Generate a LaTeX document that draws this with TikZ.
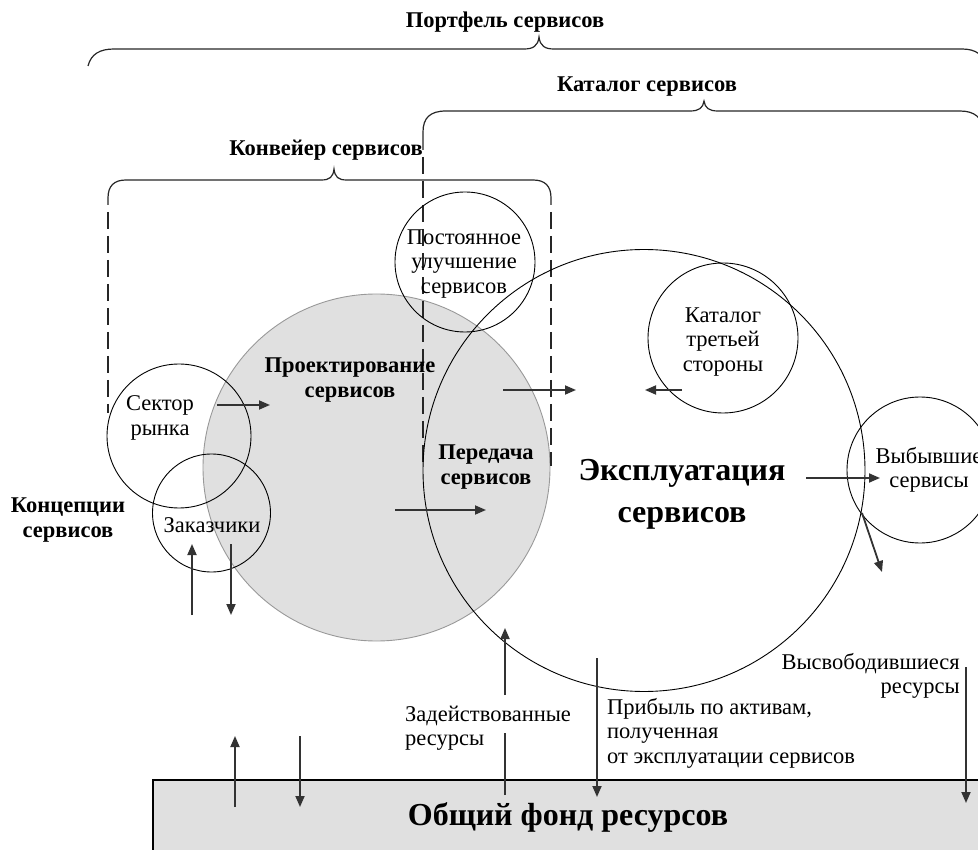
\documentclass[tikz,border=0pt]{standalone}
\usepackage{fontspec}
\setmainfont{Liberation Serif}
\usetikzlibrary{arrows.meta}
\definecolor{shade}{HTML}{E0E0E0}
\definecolor{arr}{HTML}{333333}
\begin{document}
\begin{tikzpicture}[x=1pt,y=-1pt,
  txt/.style={font=\fontsize{22.5}{24.5}\selectfont, align=center, inner sep=0pt},
  btxt/.style={txt, font=\fontsize{22.5}{24.5}\selectfont\bfseries},
  bigtxt/.style={txt, font=\fontsize{32}{42}\selectfont\bfseries},
  ring/.style={circle, draw=black, line width=0.9pt, inner sep=0pt},
  brace/.style={draw=black!85, line width=1.2pt},
  dsh/.style={draw=black!85, line width=1.2pt, dash pattern=on 17pt off 7pt},
  flow/.style={draw=arr, line width=1.8pt, -{Triangle[length=11pt,width=9pt]}},
  flowline/.style={draw=arr, line width=1.8pt},
]
\useasboundingbox (0,0) rectangle (978,850);
\clip (0,0) rectangle (978,850);

% shaded design circle
\node[ring, minimum size=347pt, fill=shade, draw=black!40] (proj) at (376.5,467.5) {};

% resource pool box
\node[draw=black, line width=1.5pt, fill=shade, minimum width=860pt, minimum height=100pt,
      anchor=north west, inner sep=0pt] (poolbox) at (152,779) {};

% braces
\draw[brace] (88,66) .. controls (91,54) and (100,49) .. (114,49) -- (524,49)
  .. controls (533,49) and (538,46) .. (539,37) .. controls (540,46) and (545,49) .. (554,49)
  -- (962,49) .. controls (976,49) and (984,55) .. (986,67);
\draw[brace] (423,150) -- (423,132) .. controls (423,118) and (430,111) .. (446,111) -- (690,111)
  .. controls (699,111) and (703,108) .. (704,101) .. controls (705,108) and (709,111) .. (718,111)
  -- (960,111) .. controls (975,111) and (982,118) .. (984,130);
\draw[brace] (108,205) -- (108,198) .. controls (108,186) and (114,180) .. (126,180) -- (321,180)
  .. controls (330,180) and (333,177) .. (334,169) .. controls (335,177) and (338,180) .. (347,180)
  -- (533,180) .. controls (545,180) and (551,186) .. (551,198) -- (551,205);
\draw[dsh] (423,157) -- (423,462);
\draw[dsh] (108,212) -- (108,413);
\draw[dsh] (551,212) -- (551,466);

% circles
\node[ring, minimum size=442pt] (expl) at (644,470.5) {};
\node[ring, minimum size=140pt] (impr) at (465,262) {};
\node[ring, minimum size=150pt] (third) at (723,338) {};
\node[ring, minimum size=144pt] (market) at (179,436) {};
\node[ring, minimum size=118pt] (cust) at (211.5,513) {};
\node[ring, minimum size=146pt] (retired) at (920,470) {};

% texts
\node[btxt] (portf) at (505,22) {Портфель сервисов};
\node[btxt] (catl) at (647,87) {Каталог сервисов};
\node[btxt] (conv) at (326,150) {Конвейер сервисов};
\node[txt] (imprt) at (464,264) {Постоянное\\улучшение\\сервисов};
\node[txt] (thirdt) at (723,342) {Каталог\\третьей\\стороны};
\node[btxt] (projt) at (350,380) {Проектирование\\сервисов};
\node[btxt] (trant) at (486,467) {Передача\\сервисов};
\node[txt] (markt) at (160,418) {Сектор\\рынка};
\node[txt] (custt) at (212,525) {Заказчики};
\node[btxt] (conc) at (68,520) {Концепции\\сервисов};
\node[bigtxt] (explt) at (682,494) {Эксплуатация\\сервисов};
\node[txt] (rett) at (929,470) {Выбывшие\\сервисы};
\node[txt, align=right, anchor=east] (freed) at (960,676) {Высвободившиеся\\ресурсы};
\node[txt, align=left, anchor=west] (profit) at (607,733) {Прибыль по активам,\\полученная\\от эксплуатации сервисов};
\node[txt, align=left, anchor=west] (used) at (405,728) {Задействованные\\ресурсы};
\node[bigtxt] (pool) at (568,817) {Общий фонд ресурсов};

% arrow end points
\coordinate (a1s) at (217,405);  \coordinate (a1e) at (270,405);
\coordinate (a2s) at (192,615);  \coordinate (a2e) at (192,544);
\coordinate (a3s) at (231,544);  \coordinate (a3e) at (231,615);
\coordinate (a4s) at (395,510);  \coordinate (a4e) at (486,510);
\coordinate (a5s) at (503,390);  \coordinate (a5e) at (576,390);
\coordinate (a6s) at (682,390);  \coordinate (a6e) at (645,390);
\coordinate (a7s) at (806,478);  \coordinate (a7e) at (880,478);
\coordinate (a8s) at (862,513);  \coordinate (a8e) at (882,572);
\coordinate (a9s) at (505,795);  \coordinate (a9n) at (505,733);
\coordinate (a9m) at (505,695);  \coordinate (a9e) at (505,628);
\coordinate (a10s) at (597,658); \coordinate (a10e) at (597,797);
\coordinate (a11s) at (235,807); \coordinate (a11e) at (235,736);
\coordinate (a12s) at (300,736); \coordinate (a12e) at (300,807);
\coordinate (a13s) at (966,667); \coordinate (a13e) at (966,803);

\draw[flow] (a1s) -- (a1e);
\draw[flow] (a2s) -- (a2e);
\draw[flow] (a3s) -- (a3e);
\draw[flow] (a4s) -- (a4e);
\draw[flow] (a5s) -- (a5e);
\draw[flow] (a6s) -- (a6e);
\draw[flow] (a7s) -- (a7e);
\draw[flow] (a8s) -- (a8e);
\draw[flowline] (a9s) -- (a9n);
\draw[flow] (a9m) -- (a9e);
\draw[flow] (a10s) -- (a10e);
\draw[flow] (a11s) -- (a11e);
\draw[flow] (a12s) -- (a12e);
\draw[flow] (a13s) -- (a13e);
\end{tikzpicture}
\end{document}
